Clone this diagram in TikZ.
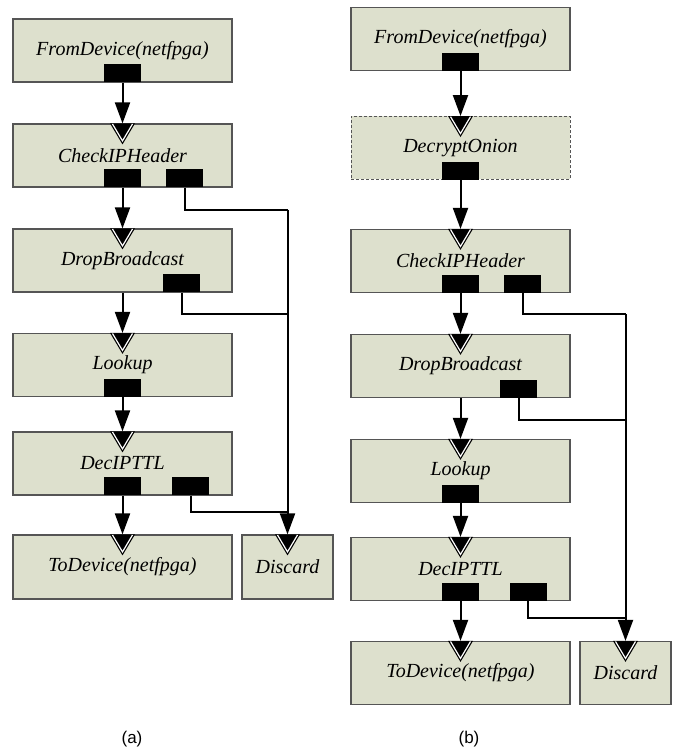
\documentclass[tikz,border=0pt]{standalone}
\usepackage{fontspec}
\setmainfont{Liberation Serif}
\newfontfamily\elemfont{Liberation Serif}
\newfontfamily\capfont{Liberation Sans}
\usetikzlibrary{arrows.meta,calc}

\definecolor{elemfill}{RGB}{221,224,205}
\definecolor{elemline}{RGB}{85,85,85}

\tikzset{
  element/.style={draw=elemline, fill=elemfill, line width=1.2pt, minimum width=219pt,
    minimum height=63pt, inner sep=0pt, font=\elemfont\fontsize{20}{24}\selectfont\itshape},
  port/.style={fill=black, minimum width=37pt, minimum height=18pt, inner sep=0pt, anchor=south},
  flow/.style={line width=2pt, -{Triangle[length=21pt,width=15pt]}},
  wire/.style={line width=2pt},
}

% input port: black triangle hanging from the top edge
\newcommand{\inport}[1]{%
  \fill ($(#1.north)+(-12.5,0)$) -- ($(#1.north)+(12.5,0)$) -- ($(#1.north)+(0,21)$) -- cycle;
  \draw[white, line width=1.2pt] ($(#1.north)+(-10,0.6)$) -- ($(#1.north)+(0,17.5)$) -- ($(#1.north)+(10,0.6)$);}

\begin{document}
\begin{tikzpicture}[x=1pt, y=-1pt]
\useasboundingbox (0,0) rectangle (680,751);

% (a)
\node[element] (fromA) at (122.5,50.5) {FromDevice(netfpga)};
\node[element] (checkA) at (122.5,155.5) {CheckIPHeader};
\node[element] (dropA) at (122.5,260.5) {DropBroadcast};
\node[element] (lookA) at (122.5,365) {Lookup};
\node[element] (decA) at (122.5,463.5) {DecIPTTL};
\node[element, minimum height=64pt] (todevA) at (122.5,567) {ToDevice(netfpga)};
\node[element, minimum width=91pt, minimum height=64pt] (discA) at (287.5,567) {Discard};

% (b)
\node[element] (fromB) at (460.5,39) {FromDevice(netfpga)};
\node[element, dashed, dash pattern=on 3pt off 2pt, line width=0.9pt] (cryptB) at (460.5,148) {DecryptOnion};
\node[element] (checkB) at (460.5,261) {CheckIPHeader};
\node[element] (dropB) at (460.5,366) {DropBroadcast};
\node[element] (lookB) at (460.5,471) {Lookup};
\node[element] (decB) at (460.5,569) {DecIPTTL};
\node[element] (todevB) at (460.5,673) {ToDevice(netfpga)};
\node[element, minimum width=91pt] (discB) at (625.5,673) {Discard};

\foreach \n in {checkA,dropA,lookA,decA,todevA,discA,cryptB,checkB,dropB,lookB,decB,todevB,discB}
  {\inport{\n}}

% output ports
\node[port] (fromAo) at (fromA.south) {};
\node[port] (checkAo) at (checkA.south) {};
\node[port] (checkAx) at ([xshift=62pt]checkA.south) {};
\node[port] (dropAx) at ([xshift=59pt]dropA.south) {};
\node[port] (lookAo) at (lookA.south) {};
\node[port] (decAo) at (decA.south) {};
\node[port] (decAx) at ([xshift=68pt]decA.south) {};

\node[port] (fromBo) at (fromB.south) {};
\node[port] (cryptBo) at (cryptB.south) {};
\node[port] (checkBo) at (checkB.south) {};
\node[port] (checkBx) at ([xshift=62pt]checkB.south) {};
\node[port] (dropBx) at ([xshift=58pt]dropB.south) {};
\node[port] (lookBo) at (lookB.south) {};
\node[port] (decBo) at (decB.south) {};
\node[port] (decBx) at ([xshift=67.5pt]decB.south) {};

% main chains
\draw[flow] (fromAo) -- (checkA);
\draw[flow] (checkAo) -- (dropA);
\draw[flow] (dropA) -- (lookA);
\draw[flow] (lookAo) -- (decA);
\draw[flow] (decAo) -- (todevA);

\draw[flow] (fromBo) -- (cryptB);
\draw[flow] (cryptBo) -- (checkB);
\draw[flow] (checkBo) -- (dropB);
\draw[flow] (dropB) -- (lookB);
\draw[flow] (lookBo) -- (decB);
\draw[flow] (decBo) -- (todevB);

% drops to Discard
\coordinate (busA) at (discA.north |- 0,210);
\draw[wire] (checkAx.south) |- (busA);
\draw[wire] (dropAx.south) |- (discA.north |- 0,314);
\draw[wire] (decAx.south) |- (discA.north |- 0,512);
\draw[flow] (busA) -- (discA);

\coordinate (busB) at (discB.north |- 0,314);
\draw[wire] (checkBx.south) |- (busB);
\draw[wire] (dropBx.south) |- (discB.north |- 0,420);
\draw[wire] (decBx.south) |- (discB.north |- 0,618);
\draw[flow] (busB) -- (discB);

\node[font=\capfont\fontsize{17}{20}\selectfont] (capA) at (132,739) {(a)};
\node[font=\capfont\fontsize{17}{20}\selectfont] (capB) at (469,739) {(b)};
\end{tikzpicture}
\end{document}
